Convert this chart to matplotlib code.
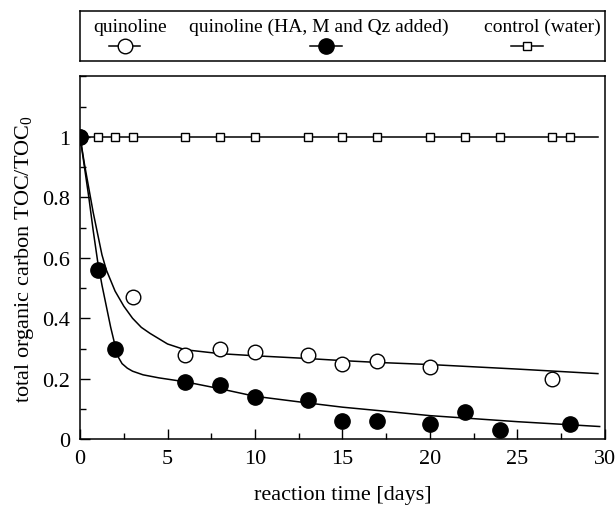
import numpy as np
import matplotlib
matplotlib.use("Agg")
import matplotlib.pyplot as plt
from matplotlib.ticker import MultipleLocator

plt.rcParams['font.family'] = ['Liberation Serif', 'DejaVu Serif']
plt.rcParams['mathtext.fontset'] = 'custom'
plt.rcParams['mathtext.rm'] = 'Liberation Serif'

# measured TOC/TOC0, quinoline alone
quin_x = [0, 3, 6, 8, 10, 13, 15, 17, 20, 27]
quin_y = [1.0, 0.47, 0.28, 0.30, 0.29, 0.28, 0.25, 0.26, 0.24, 0.20]

# quinoline with HA, M and Qz added
mix_x = [0, 1, 2, 6, 8, 10, 13, 15, 17, 20, 22, 24, 28]
mix_y = [1.0, 0.56, 0.30, 0.19, 0.18, 0.14, 0.13, 0.06, 0.06, 0.05, 0.09, 0.03, 0.05]

# control (water)
ctrl_x = [0, 1, 2, 3, 6, 8, 10, 13, 15, 17, 20, 22, 24, 27, 28]
ctrl_y = [1.0] * len(ctrl_x)

# fitted curves
quin_fit_x = [0, 0.25, 0.5, 0.75, 1, 1.25, 1.5, 2, 2.5, 3, 3.5, 4, 5, 6, 8, 10, 13, 15, 17, 20, 25, 29.6]
quin_fit_y = [1.0, 0.91, 0.83, 0.75, 0.68, 0.61, 0.56, 0.49, 0.44, 0.40, 0.37, 0.35, 0.315, 0.296,
              0.283, 0.276, 0.267, 0.26, 0.254, 0.247, 0.232, 0.217]
mix_fit_x = [0, 0.25, 0.5, 0.75, 1, 1.25, 1.5, 1.75, 2, 2.2, 2.4, 2.7, 3, 3.6, 4.5, 6, 8, 10, 13, 15,
             17, 20, 25, 29.7]
mix_fit_y = [1.0, 0.90, 0.80, 0.69, 0.59, 0.51, 0.44, 0.37, 0.31, 0.27, 0.25, 0.235, 0.225, 0.213,
             0.203, 0.19, 0.167, 0.142, 0.12, 0.106, 0.095, 0.078, 0.058, 0.042]
ctrl_fit_x = [0, 29.6]
ctrl_fit_y = [1.0, 1.0]

fig = plt.figure(figsize=(6.16, 5.06), dpi=100)
ax = fig.add_axes([0.13, 0.13, 0.852, 0.717])

ax.plot(quin_fit_x, quin_fit_y, color='black', lw=1.1)
ax.plot(mix_fit_x, mix_fit_y, color='black', lw=1.1)
ax.plot(ctrl_fit_x, ctrl_fit_y, color='black', lw=1.1)
ax.plot(ctrl_x, ctrl_y, ls='none', marker='s', ms=5.5, mfc='white', mec='black', mew=1.0)
ax.plot(quin_x, quin_y, ls='none', marker='o', ms=10.5, mfc='white', mec='black', mew=1.0)
ax.plot(mix_x, mix_y, ls='none', marker='o', ms=11, mfc='black', mec='black')

ax.set_xlim(0, 30)
ax.set_ylim(0, 1.2)
ax.xaxis.set_major_locator(MultipleLocator(5))
ax.xaxis.set_minor_locator(MultipleLocator(2.5))
ax.yaxis.set_minor_locator(MultipleLocator(0.1))
ax.set_yticks([0, 0.2, 0.4, 0.6, 0.8, 1.0])
ax.set_yticklabels(['0', '0.2', '0.4', '0.6', '0.8', '1'])
ax.tick_params(which='both', direction='in', labelsize=16, width=1)
ax.tick_params(which='major', length=7, pad=7)
ax.tick_params(which='minor', length=4)
for s in ax.spines.values():
    s.set_linewidth(1.1)

ax.set_xlabel('reaction time [days]', fontsize=16, labelpad=12)
ax.set_ylabel('total organic carbon TOC/TOC$_0$', fontsize=16, labelpad=5)

# legend box drawn above the plot
lg = fig.add_axes([0.13, 0.877, 0.852, 0.099])
lg.set_xlim(0, 1)
lg.set_ylim(0, 1)
lg.set_xticks([])
lg.set_yticks([])
for s in lg.spines.values():
    s.set_linewidth(1.1)
entries = [('quinoline', 0.095, 0.085, dict(marker='o', ms=10.5, mfc='white', mec='black')),
           ('quinoline (HA, M and Qz added)', 0.455, 0.469, dict(marker='o', ms=11, mfc='black', mec='black')),
           ('control (water)', 0.88, 0.852, dict(marker='s', ms=5.5, mfc='white', mec='black'))]
for label, tx, mx, style in entries:
    lg.text(tx, 0.7, label, ha='center', va='center', fontsize=14)
    lg.plot([mx - 0.03, mx + 0.03], [0.3, 0.3], color='black', lw=1.1)
    lg.plot([mx], [0.3], ls='none', **style)

fig.savefig('out.png', dpi=100)
